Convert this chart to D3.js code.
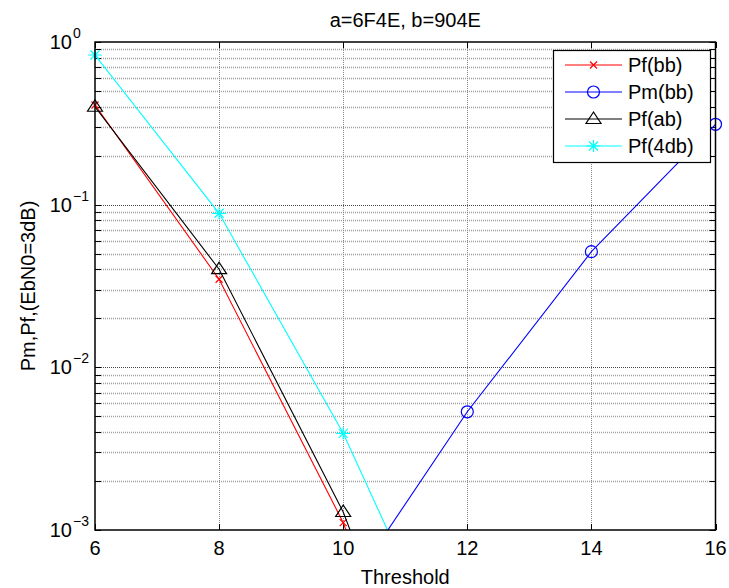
<!DOCTYPE html>
<html><head><meta charset="utf-8">
<script src="https://cdn.jsdelivr.net/npm/d3@7"></script>
<style>body{margin:0;background:#fff} text{font-family:"Liberation Sans",Arial,sans-serif;fill:#000}</style>
</head><body><svg id="c" width="729" height="588"></svg>
<script>
// ---- data ----
const pfThresholds = [6, 8, 10, 12];
const pfBB  = [0.41, 0.0348, 0.00111, 1.0e-5];
const pfAB  = [0.40, 0.0401, 0.00129, 1.3e-5];
const pf4DB = [0.832, 0.0885, 0.00393, 8.5e-5];
const pmThresholds = [10, 12, 14, 16];
const pmBB  = [3.9e-4, 0.00533, 0.0514, 0.312];
const xTicks = [6, 8, 10, 12, 14, 16];
const yTickExps = [0, -1, -2, -3];
const legendLabels = ["Pf(bb)", "Pm(bb)", "Pf(ab)", "Pf(4db)"];
const titleText = "a=6F4E, b=904E";
const xLabelText = "Threshold";
const yLabelText = "Pm,Pf,(EbN0=3dB)";

// ---- layout ----
const W = 729, H = 588;
const L = 95, R = 715.5, T = 42, B = 530;
const svg = d3.select("#c");
const x = d3.scaleLinear().domain([6, 16]).range([L, R]);
const y = d3.scaleLog().domain([1e-3, 1]).range([B, T]);

const series = [
  {name: legendLabels[0], xs: pfThresholds, ys: pfBB,  color: "#ff0000", marker: "x"},
  {name: legendLabels[1], xs: pmThresholds, ys: pmBB,  color: "#0000ff", marker: "o"},
  {name: legendLabels[2], xs: pfThresholds, ys: pfAB,  color: "#000000", marker: "tri"},
  {name: legendLabels[3], xs: pfThresholds, ys: pf4DB, color: "#00ffff", marker: "star"}
];

svg.append("rect").attr("x",0).attr("y",0).attr("width",W).attr("height",H).attr("fill","#fff");

// grid
const grid = svg.append("g");
const minorVals = [];
for (let d = -3; d < 0; d++) for (let m = 2; m <= 9; m++) minorVals.push(m * Math.pow(10, d));
grid.selectAll(".mn").data(minorVals).enter().append("line")
  .attr("x1", L).attr("x2", R).attr("y1", d => Math.round(y(d))+0.5).attr("y2", d => Math.round(y(d))+0.5)
  .attr("stroke", "#a0a0a0").attr("stroke-width", 1.3).attr("stroke-dasharray", "1,1");
grid.selectAll(".mj").data([1e-1, 1e-2]).enter().append("line")
  .attr("x1", L).attr("x2", R).attr("y1", d => Math.round(y(d))+0.5).attr("y2", d => Math.round(y(d))+0.5)
  .attr("stroke", "#444").attr("stroke-width", 1).attr("stroke-dasharray", "1,1");
grid.selectAll(".vx").data(xTicks.slice(1, -1)).enter().append("line")
  .attr("y1", T).attr("y2", B).attr("x1", d => Math.round(x(d))+0.5).attr("x2", d => Math.round(x(d))+0.5)
  .attr("stroke", "#888").attr("stroke-width", 1).attr("stroke-dasharray", "1,1");

// ticks
const tk = svg.append("g").attr("stroke", "#000").attr("stroke-width", 1);
const allY = minorVals.concat([1e-3, 1e-2, 1e-1, 1]);
allY.forEach(v => {
  const yy = Math.round(y(v)) + 0.5;
  tk.append("line").attr("x1", L).attr("x2", L + 6).attr("y1", yy).attr("y2", yy);
  tk.append("line").attr("x1", R - 6).attr("x2", R).attr("y1", yy).attr("y2", yy);
});
xTicks.forEach(v => {
  const xx = Math.round(x(v)) + 0.5;
  tk.append("line").attr("x1", xx).attr("x2", xx).attr("y1", B).attr("y2", B - 6);
  tk.append("line").attr("x1", xx).attr("x2", xx).attr("y1", T).attr("y2", T + 6);
});

// clip
svg.append("clipPath").attr("id", "clp").append("rect").attr("x", L).attr("y", T).attr("width", R - L).attr("height", B - T);

const line = d3.line().x(d => x(d[0])).y(d => y(d[1]));
const plot = svg.append("g");
function drawMarker(g, type, cx, cy, color) {
  if (type === "x") {
    const s = 3.5;
    g.append("path").attr("d", `M${cx-s},${cy-s}L${cx+s},${cy+s}M${cx-s},${cy+s}L${cx+s},${cy-s}`)
      .attr("stroke", color).attr("stroke-width", 1.2).attr("fill", "none");
  } else if (type === "o") {
    g.append("circle").attr("cx", cx).attr("cy", cy).attr("r", 6)
      .attr("stroke", color).attr("fill", "none").attr("stroke-width", 1.2);
  } else if (type === "tri") {
    g.append("path").attr("d", `M${cx},${cy-7}L${cx+7.5},${cy+4.5}L${cx-7.5},${cy+4.5}Z`)
      .attr("stroke", color).attr("fill", "none").attr("stroke-width", 1.2);
  } else if (type === "star") {
    const s = 7, t = 4.5;
    g.append("path").attr("d", `M${cx-s},${cy}L${cx+s},${cy}M${cx},${cy-s+1}L${cx},${cy+s-1}M${cx-t},${cy-t}L${cx+t},${cy+t}M${cx-t},${cy+t}L${cx+t},${cy-t}`)
      .attr("stroke", color).attr("stroke-width", 1.2).attr("fill", "none");
  }
}
series.forEach(s => {
  const pts = s.xs.map((v, i) => [v, s.ys[i]]);
  plot.append("path").datum(pts).attr("d", line).attr("clip-path", "url(#clp)")
    .attr("fill", "none").attr("stroke", s.color).attr("stroke-width", 1.1);
  pts.filter(p => p[1] >= 1e-3 && p[1] <= 1).forEach(p => drawMarker(plot, s.marker, x(p[0]), y(p[1]), s.color));
});

// box
svg.append("rect").attr("x", L).attr("y", T).attr("width", R - L).attr("height", B - T)
  .attr("fill", "none").attr("stroke", "#000").attr("stroke-width", 1.5);

// tick labels
const fs = 20;
xTicks.forEach(v => {
  svg.append("text").attr("x", x(v)).attr("y", 555).attr("text-anchor", "middle")
    .attr("font-size", fs).text(v);
});
yTickExps.forEach(e => {
  const yy = y(Math.pow(10, e));
  svg.append("text").attr("x", 72).attr("y", yy + 7).attr("text-anchor", "end").attr("font-size", fs).text("10");
  svg.append("text").attr("x", 73).attr("y", yy - 4).attr("font-size", 14).text(e === 0 ? "0" : "\u2212" + Math.abs(e));
});

// title & labels
svg.append("text").attr("x", (L + R) / 2).attr("y", 27).attr("text-anchor", "middle").attr("font-size", 20).text(titleText);
svg.append("text").attr("x", (L + R) / 2).attr("y", 584).attr("text-anchor", "middle").attr("font-size", 20).text(xLabelText);
svg.append("text").attr("transform", `translate(35,${(T + B) / 2}) rotate(-90)`).attr("text-anchor", "middle")
  .attr("font-size", 20).text(yLabelText);

// legend
const lg = svg.append("g");
lg.append("rect").attr("x", 553.5).attr("y", 50.5).attr("width", 157).attr("height", 112)
  .attr("fill", "#fff").attr("stroke", "#000").attr("stroke-width", 1.2);
series.forEach((s, i) => {
  const yy = 65 + i * 27;
  lg.append("line").attr("x1", 565).attr("x2", 622).attr("y1", yy).attr("y2", yy).attr("stroke", s.color).attr("stroke-width", 1.1);
  drawMarker(lg, s.marker, 593.5, yy, s.color);
  lg.append("text").attr("x", 628).attr("y", yy + 7).attr("font-size", 20).text(s.name);
});
</script></body></html>
